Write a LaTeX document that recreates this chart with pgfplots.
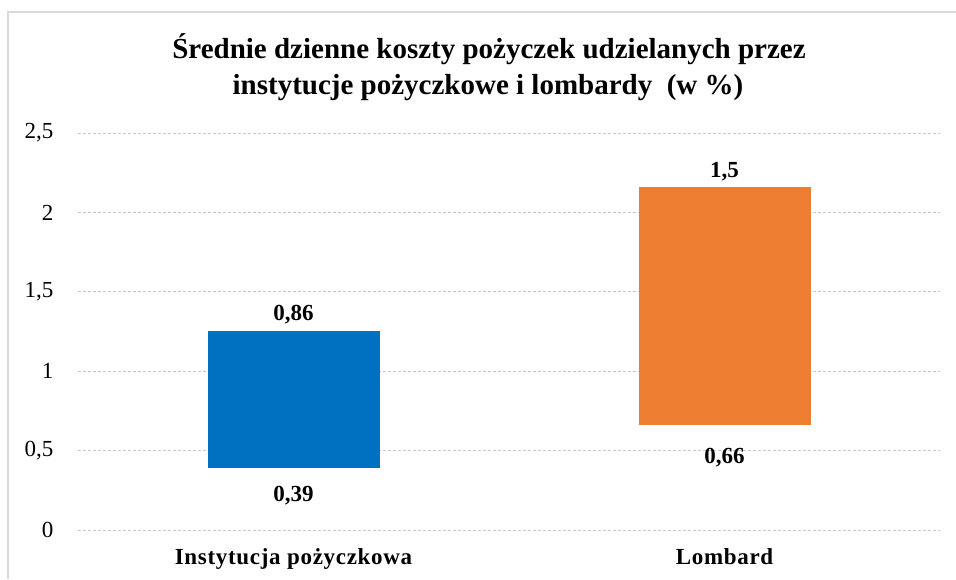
\documentclass[border=0pt]{standalone}
\usepackage{pgfplots}
\usepackage{pgfplotstable}
\pgfplotsset{compat=1.18}
\usepackage{fontspec}
\setmainfont{Liberation Serif}
\definecolor{cblue}{HTML}{0070C0}
\definecolor{corange}{HTML}{ED7D31}
\definecolor{cgrid}{HTML}{C8C8C8}
% bar segments: invisible base + visible length
\pgfplotstableread{
x y
0 0.39
1 0.66
}\tbase
\pgfplotstableread{
x y
0 0.86
1 0
}\tblue
\pgfplotstableread{
x y
0 0
1 1.5
}\torange
% label positions (bar bottoms and bar tops)
\pgfplotstableread{
x y lab
0 0.39 0,39
}\lbotA
\pgfplotstableread{
x y lab
1 0.66 0,66
}\lbotB
\pgfplotstableread{
x y lab
0 1.25 0,86
}\ltopA
\pgfplotstableread{
x y lab
1 2.16 1,5
}\ltopB
\pgfplotsset{common/.style={
  at={(78pt,49pt)}, anchor=south west,
  scale only axis, width=862pt, height=397pt,
  xmin=-0.5, xmax=1.5, ymin=0, ymax=2.5,
}}
\begin{document}
\begin{tikzpicture}
\useasboundingbox (0pt,0pt) rectangle (956pt,579pt);
\draw[color=black!15, line width=1.2pt] (8pt,0pt) -- (8pt,567pt) -- (956pt,567pt);
\node[font=\fontsize{29}{34}\selectfont\bfseries, anchor=base] at (489pt,520pt) {Średnie dzienne koszty pożyczek udzielanych przez};
\node[font=\fontsize{29}{34}\selectfont\bfseries, anchor=base] at (488pt,484pt) {instytucje pożyczkowe i lombardy\ \ (w \%)};
\begin{axis}[
  common,
  ybar stacked, bar width=172pt,
  xtick={0,1},
  xticklabels={{\addfontfeature{LetterSpace=3}Instytucja pożyczkowa},{\addfontfeature{LetterSpace=3}Lombard}},
  ytick={0,0.5,1,1.5,2,2.5},
  /pgf/number format/use comma,
  /pgf/number format/assume math mode=true,
  axis line style={draw=none},
  major tick length=0pt,
  ymajorgrids,
  grid style={cgrid, densely dashed, line width=0.7pt},
  tick label style={font=\fontsize{23}{27}\selectfont},
  yticklabel style={anchor=east, xshift=-21pt},
  xticklabel style={font=\fontsize{23}{27}\selectfont\bfseries, anchor=north, yshift=-15pt},
]
\addplot[draw=none, fill=none] table[x=x, y=y] {\tbase};
\addplot[draw=none, fill=cblue] table[x=x, y=y] {\tblue};
\addplot[draw=none, fill=corange] table[x=x, y=y] {\torange};
\end{axis}
\begin{axis}[
  common, hide axis, clip=false,
  point meta=explicit symbolic,
  nodes near coords,
  every node near coord/.append style={font=\fontsize{23}{27}\selectfont\bfseries, black},
]
\addplot[draw=none, mark=none, every node near coord/.append style={anchor=north, yshift=-15pt}] table[x=x, y=y, meta=lab] {\lbotA};
\addplot[draw=none, mark=none, every node near coord/.append style={anchor=north, yshift=-19pt}] table[x=x, y=y, meta=lab] {\lbotB};
\addplot[draw=none, mark=none, every node near coord/.append style={anchor=south, yshift=4pt}] table[x=x, y=y, meta=lab] {\ltopA};
\addplot[draw=none, mark=none, every node near coord/.append style={anchor=south, yshift=2pt}] table[x=x, y=y, meta=lab] {\ltopB};
\end{axis}
\end{tikzpicture}
\end{document}
